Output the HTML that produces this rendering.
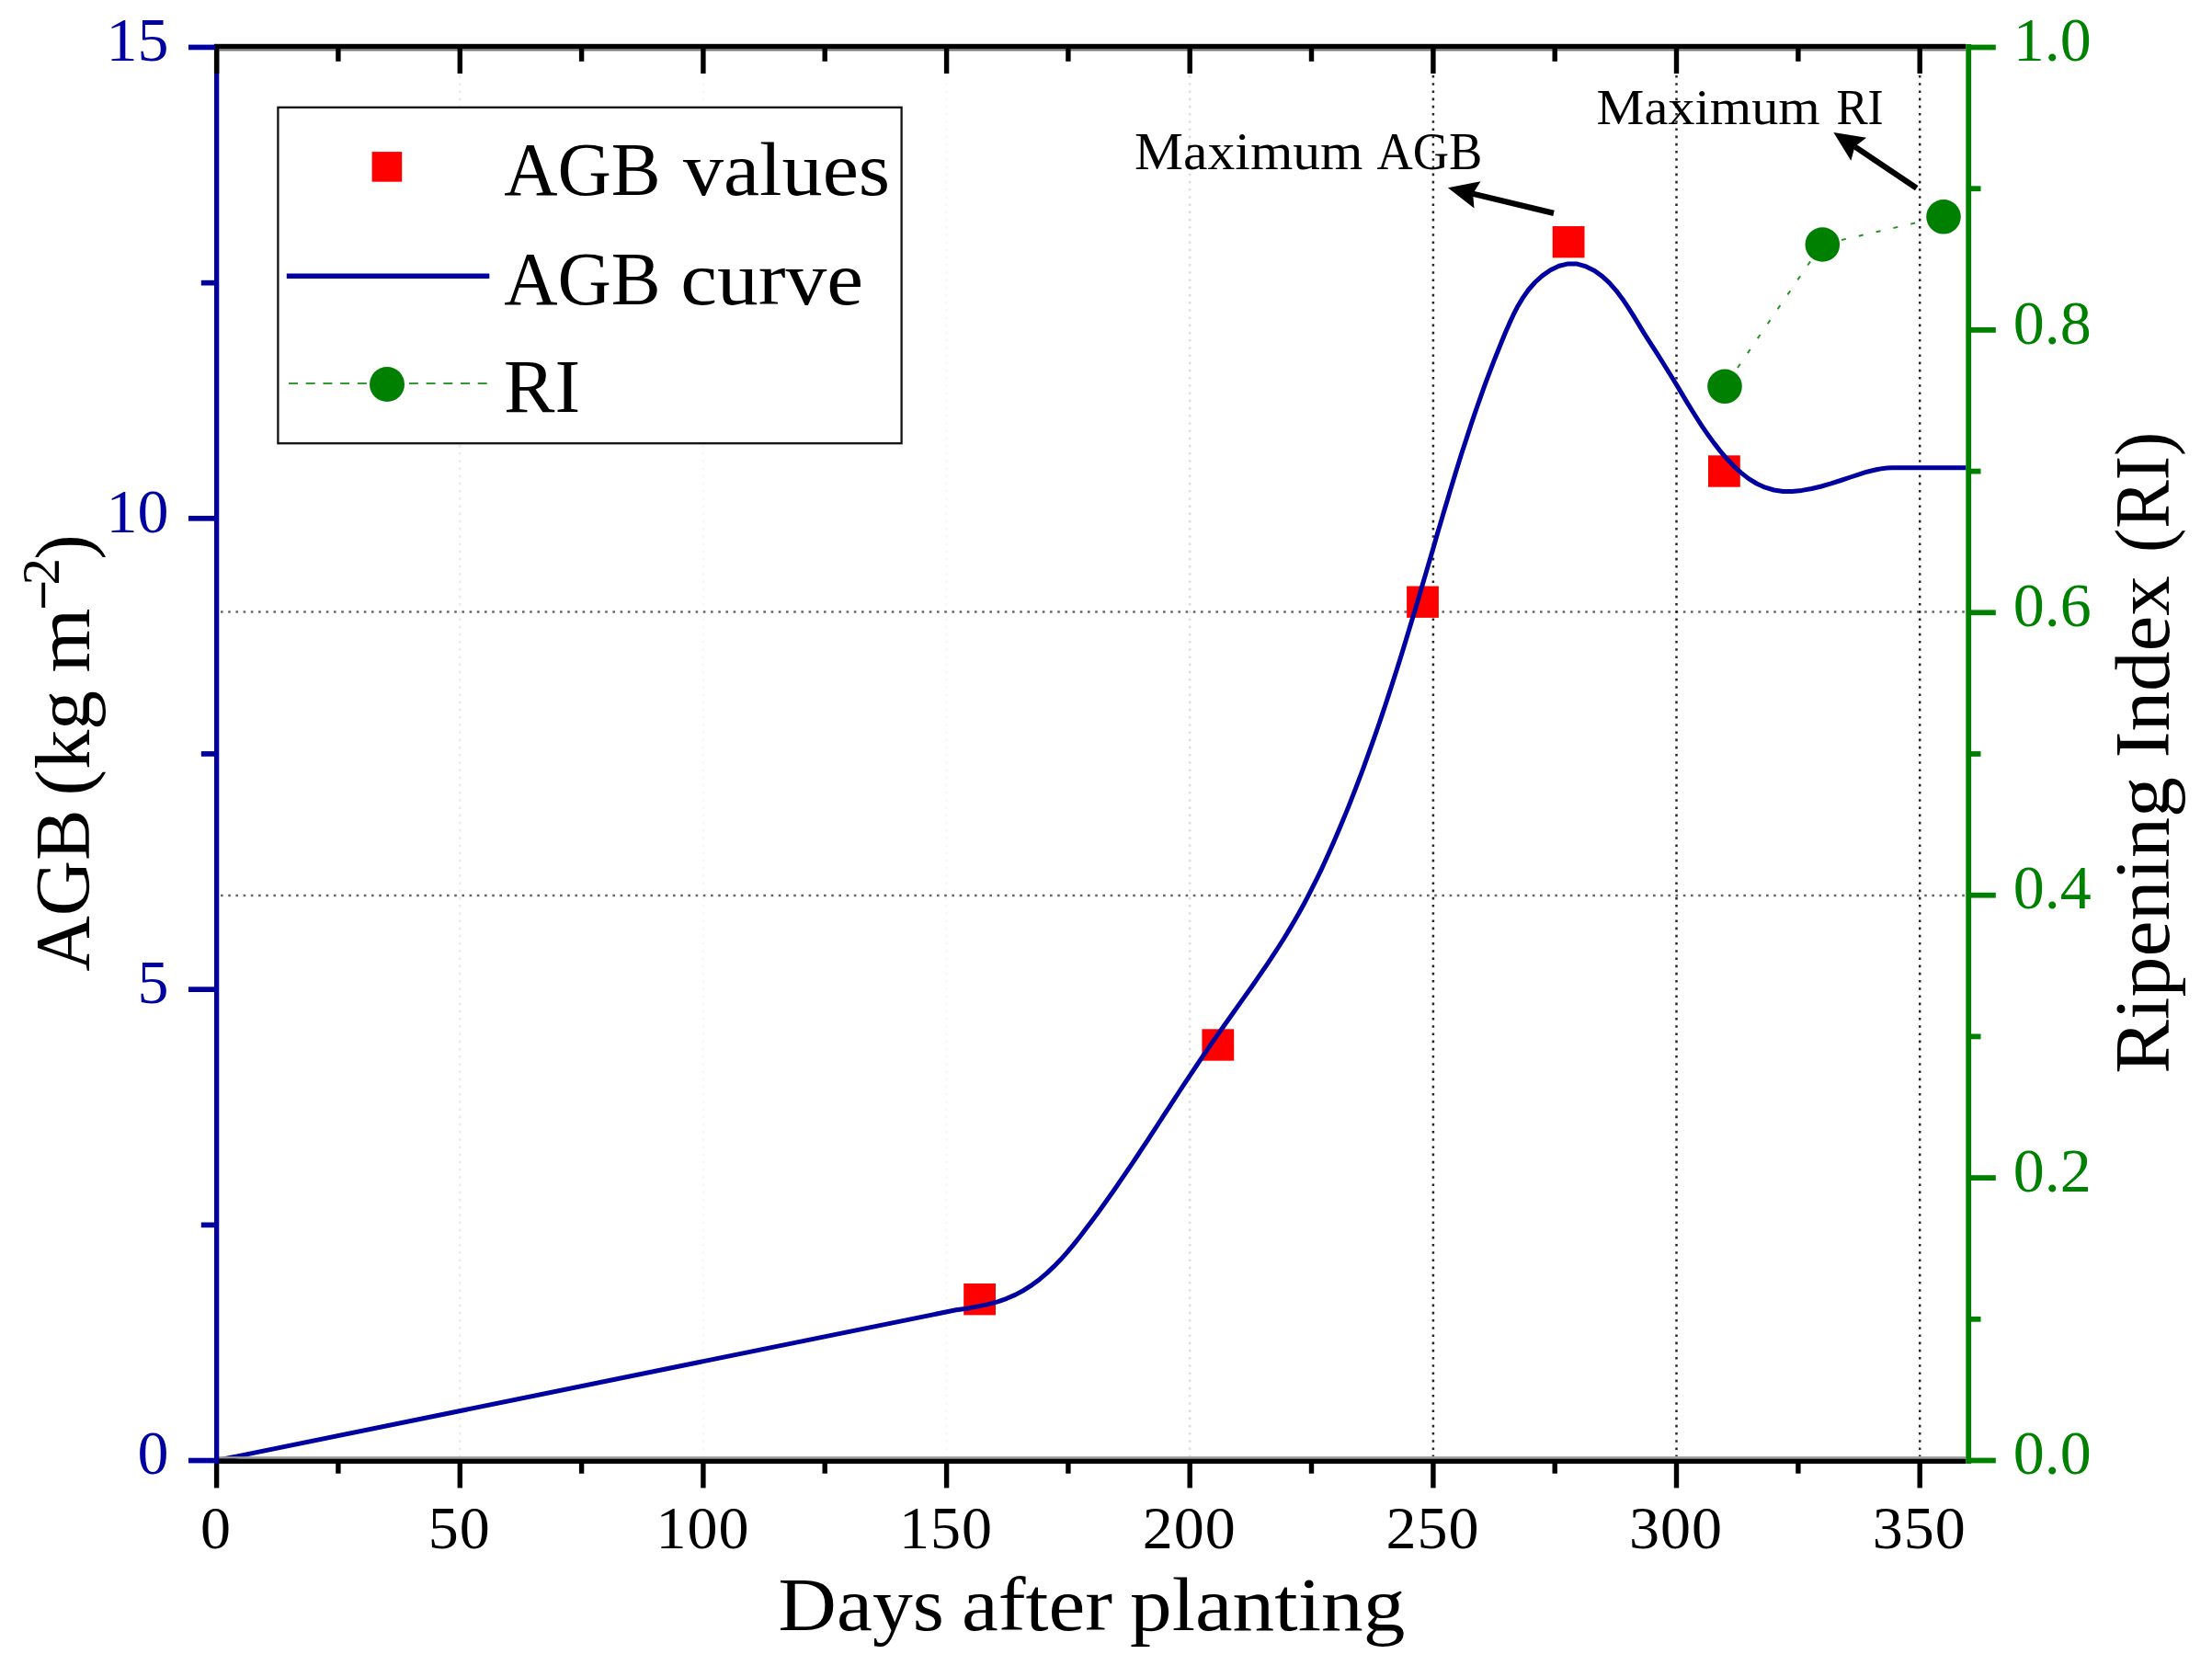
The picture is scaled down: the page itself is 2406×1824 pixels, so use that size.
<!DOCTYPE html>
<html lang="en"><head><meta charset="utf-8"><title>AGB curve and Ripening Index</title>
<style>html,body{margin:0;padding:0;background:#fff}svg{display:block}text{font-family:"Liberation Serif", "DejaVu Serif", serif}</style></head><body>
<svg width="2406" height="1824" viewBox="0 0 2406 1824">
<rect width="2406" height="1824" fill="#fff"/>
<g fill="none" stroke-width="2.5" stroke-dasharray="2.6 5.6">
<line x1="500.3" y1="82" x2="500.3" y2="1584" stroke="#000" stroke-opacity="0.08"/>
<line x1="764.9" y1="82" x2="764.9" y2="1584" stroke="#000" stroke-opacity="0.03"/>
<line x1="1029.6" y1="82" x2="1029.6" y2="1584" stroke="#000" stroke-opacity="0.03"/>
<line x1="1294.2" y1="82" x2="1294.2" y2="1584" stroke="#000" stroke-opacity="0.12"/>
<line x1="1558.9" y1="82" x2="1558.9" y2="1584" stroke="#000" stroke-opacity="0.85"/>
<line x1="1823.5" y1="82" x2="1823.5" y2="1584" stroke="#000" stroke-opacity="0.85"/>
<line x1="2088.2" y1="82" x2="2088.2" y2="1584" stroke="#000" stroke-opacity="0.85"/>
<line x1="240" y1="974.0" x2="2137" y2="974.0" stroke="#000" stroke-opacity="0.6"/>
<line x1="240" y1="665.6" x2="2137" y2="665.6" stroke="#000" stroke-opacity="0.6"/>
</g>
<rect x="302.4" y="116.8" width="678.2" height="365.4" fill="#fff" stroke="#111" stroke-width="2.3"/>
<g fill="#ff0000">
<rect x="1048.2" y="1396.0" width="34.8" height="34.4"/>
<rect x="1307.4" y="1119.3" width="34.8" height="34.4"/>
<rect x="1530.1" y="637.5" width="34.8" height="34.4"/>
<rect x="1688.7" y="246.0" width="34.8" height="34.4"/>
<rect x="1858.0" y="495.3" width="34.8" height="34.4"/>
</g>
<path d="M235.6 1588.5 L1040 1424.7 1053.3 1422.9 1064.1 1420.9 1074.8 1418.6 1085.1 1415.8 1095.1 1412.3 1104.7 1408.1 1113.8 1403.2 1122.5 1397.6 1130.8 1391.4 1138.8 1384.6 1146.4 1377.4 1153.8 1369.8 1160.9 1361.8 1167.8 1353.6 1174.5 1345.2 1181.1 1336.6 1187.6 1328.0 1193.9 1319.4 1200.2 1310.7 1206.4 1302.0 1212.6 1293.2 1218.6 1284.4 1224.6 1275.6 1230.6 1266.8 1236.5 1258.0 1242.3 1249.1 1248.2 1240.3 1254.0 1231.4 1259.8 1222.5 1265.5 1213.6 1271.3 1204.8 1277.1 1195.9 1282.9 1187.0 1288.7 1178.2 1294.6 1169.3 1300.5 1160.5 1306.4 1151.7 1312.4 1142.9 1318.4 1134.1 1324.5 1125.4 1330.6 1116.7 1336.8 1108.0 1343.0 1099.3 1349.1 1090.6 1355.3 1081.9 1361.5 1073.2 1367.6 1064.4 1373.6 1055.6 1379.6 1046.8 1385.5 1037.9 1391.3 1029.0 1397.0 1020.0 1402.5 1010.9 1407.9 1001.8 1413.2 992.6 1418.3 983.3 1423.2 973.9 1428.0 964.4 1432.8 954.9 1437.4 945.3 1441.8 935.7 1446.2 926.0 1450.5 916.3 1454.7 906.5 1458.8 896.7 1462.9 886.9 1466.9 877.1 1470.8 867.2 1474.6 857.3 1478.4 847.3 1482.2 837.4 1485.8 827.4 1489.4 817.4 1493.0 807.3 1496.5 797.3 1500.0 787.2 1503.4 777.1 1506.8 767.0 1510.1 756.9 1513.4 746.8 1516.6 736.7 1519.9 726.5 1523.0 716.4 1526.2 706.2 1529.3 696.0 1532.4 685.8 1535.5 675.6 1538.6 665.4 1541.6 655.2 1544.6 645.0 1547.6 634.8 1550.6 624.6 1553.6 614.4 1556.6 604.2 1559.6 594.0 1562.5 583.8 1565.5 573.6 1568.5 563.4 1571.5 553.3 1574.6 543.1 1577.6 532.9 1580.7 522.8 1583.8 512.6 1586.9 502.5 1590.1 492.3 1593.4 482.2 1596.7 472.1 1600.0 462.0 1603.4 451.9 1606.9 441.8 1610.4 431.8 1614.0 421.7 1617.7 411.7 1621.5 401.7 1625.3 391.7 1629.3 381.7 1633.3 371.8 1637.4 361.8 1641.7 351.9 1646.2 342.2 1651.1 332.7 1656.6 323.6 1662.7 315.0 1669.7 307.0 1677.6 299.9 1686.4 293.7 1695.8 289.2 1705.7 286.9 1715.6 287.1 1725.3 289.9 1734.4 294.5 1742.9 300.6 1750.7 307.9 1757.9 316.1 1764.6 324.9 1770.8 334.1 1776.7 343.4 1782.3 352.6 1787.6 361.4 1792.8 369.6 1798.0 377.7 1803.3 385.9 1808.7 394.5 1814.3 403.5 1819.9 412.5 1825.3 421.4 1830.5 430.1 1835.6 438.6 1840.8 447.0 1846.1 455.5 1851.7 464.1 1857.7 472.8 1864.1 481.6 1870.9 490.4 1878.1 498.8 1885.7 506.8 1893.7 514.1 1902.0 520.6 1910.8 526.0 1920.0 530.2 1929.5 533.0 1939.4 534.4 1949.5 534.5 1959.9 533.4 1970.5 531.5 1981.1 529.0 1991.7 525.9 2002.3 522.5 2012.8 519.0 2023.1 515.6 C2033.1 512.4 2046.0 508.8 2058.0 508.8 L2138.5 508.8" fill="none" stroke="#0000a0" stroke-width="5" stroke-linejoin="round"/>
<path d="M1890 400 L1970 283 M2003 261 L2094 240" fill="none" stroke="#008000" stroke-width="2" stroke-dasharray="5 14.3" stroke-opacity=".85"/>
<g fill="#008000">
<circle cx="1876.0" cy="420.3" r="18.8"/>
<circle cx="1982.3" cy="266.0" r="18.8"/>
<circle cx="2114.0" cy="235.8" r="18.8"/>
</g>
<rect x="233" y="47.8" width="1905.5" height="5.6" fill="#000"/>
<rect x="238" y="53.4" width="1900.5" height="2.1" fill="#777"/>
<rect x="238" y="1584.2" width="1900.5" height="2.4" fill="#999"/>
<rect x="238" y="1586.6" width="1900.5" height="5.4" fill="#000"/>
<rect x="233" y="55" width="5.3" height="1537" fill="#0000a0"/>
<rect x="2138.3" y="48" width="5.8" height="1544" fill="#008000"/>
<g fill="#000">
<rect x="232.9" y="48" width="5.4" height="32"/>
<rect x="232.9" y="1592" width="5.4" height="26.4"/>
<rect x="365.2" y="48" width="5.4" height="18.8"/>
<rect x="365.2" y="1591.5" width="5.4" height="11.2"/>
<rect x="497.6" y="48" width="5.4" height="32"/>
<rect x="497.6" y="1592" width="5.4" height="26.4"/>
<rect x="629.9" y="48" width="5.4" height="18.8"/>
<rect x="629.9" y="1591.5" width="5.4" height="11.2"/>
<rect x="762.2" y="48" width="5.4" height="32"/>
<rect x="762.2" y="1592" width="5.4" height="26.4"/>
<rect x="894.5" y="48" width="5.4" height="18.8"/>
<rect x="894.5" y="1591.5" width="5.4" height="11.2"/>
<rect x="1026.9" y="48" width="5.4" height="32"/>
<rect x="1026.9" y="1592" width="5.4" height="26.4"/>
<rect x="1159.2" y="48" width="5.4" height="18.8"/>
<rect x="1159.2" y="1591.5" width="5.4" height="11.2"/>
<rect x="1291.5" y="48" width="5.4" height="32"/>
<rect x="1291.5" y="1592" width="5.4" height="26.4"/>
<rect x="1423.8" y="48" width="5.4" height="18.8"/>
<rect x="1423.8" y="1591.5" width="5.4" height="11.2"/>
<rect x="1556.2" y="48" width="5.4" height="32"/>
<rect x="1556.2" y="1592" width="5.4" height="26.4"/>
<rect x="1688.5" y="48" width="5.4" height="18.8"/>
<rect x="1688.5" y="1591.5" width="5.4" height="11.2"/>
<rect x="1820.8" y="48" width="5.4" height="32"/>
<rect x="1820.8" y="1592" width="5.4" height="26.4"/>
<rect x="1953.2" y="48" width="5.4" height="18.8"/>
<rect x="1953.2" y="1591.5" width="5.4" height="11.2"/>
<rect x="2085.5" y="48" width="5.4" height="32"/>
<rect x="2085.5" y="1592" width="5.4" height="26.4"/>
</g>
<g fill="#0000a0">
<rect x="205" y="1585.7" width="29" height="5.7"/>
<rect x="218.8" y="1329.5" width="15" height="5.7"/>
<rect x="205" y="1073.3" width="29" height="5.7"/>
<rect x="218.8" y="817.1" width="15" height="5.7"/>
<rect x="205" y="561.0" width="29" height="5.7"/>
<rect x="218.8" y="304.8" width="15" height="5.7"/>
<rect x="205" y="48.6" width="29" height="5.7"/>
</g>
<g fill="#008000">
<rect x="2143" y="1585.6" width="27.8" height="5.8"/>
<rect x="2143" y="1431.9" width="11.5" height="5.8"/>
<rect x="2143" y="1278.2" width="27.8" height="5.8"/>
<rect x="2143" y="1124.5" width="11.5" height="5.8"/>
<rect x="2143" y="970.8" width="27.8" height="5.8"/>
<rect x="2143" y="817.1" width="11.5" height="5.8"/>
<rect x="2143" y="663.4" width="27.8" height="5.8"/>
<rect x="2143" y="509.7" width="11.5" height="5.8"/>
<rect x="2143" y="356.0" width="27.8" height="5.8"/>
<rect x="2143" y="202.3" width="11.5" height="5.8"/>
<rect x="2143" y="48.6" width="27.8" height="5.8"/>
</g>
<g font-size="66" letter-spacing="1" fill="#000" text-anchor="middle">
<text x="235.1" y="1684.0">0</text>
<text x="499.8" y="1684.0">50</text>
<text x="764.4" y="1684.0">100</text>
<text x="1029.1" y="1684.0">150</text>
<text x="1293.7" y="1684.0">200</text>
<text x="1558.4" y="1684.0">250</text>
<text x="1823.0" y="1684.0">300</text>
<text x="2087.7" y="1684.0">350</text>
</g>
<g font-size="68" fill="#0000a0" text-anchor="end">
<text x="183.5" y="1603.2">0</text>
<text x="183.5" y="1090.9">5</text>
<text x="183.5" y="578.5">10</text>
<text x="183.5" y="66.2">15</text>
</g>
<g font-size="68" fill="#008000" text-anchor="start">
<text x="2189.8" y="1603.2">0.0</text>
<text x="2189.8" y="1295.8">0.2</text>
<text x="2189.8" y="988.4">0.4</text>
<text x="2189.8" y="681.0">0.6</text>
<text x="2189.8" y="373.6">0.8</text>
<text x="2189.8" y="66.2">1.0</text>
</g>
<text x="846.6" y="1772.5" font-size="83" textLength="180.3" lengthAdjust="spacingAndGlyphs">Days</text>
<text x="1046.1" y="1772.5" font-size="83" textLength="163.9" lengthAdjust="spacingAndGlyphs">after</text>
<text x="1229.1" y="1772.5" font-size="83" textLength="299.2" lengthAdjust="spacingAndGlyphs">planting</text>
<text x="548.2" y="212.3" font-size="83" textLength="170.4" lengthAdjust="spacingAndGlyphs">AGB</text>
<text x="742.9" y="212.3" font-size="83" textLength="225.2" lengthAdjust="spacingAndGlyphs">values</text>
<text x="548.2" y="330.5" font-size="83" textLength="170.4" lengthAdjust="spacingAndGlyphs">AGB</text>
<text x="740.3" y="330.5" font-size="83" textLength="198.8" lengthAdjust="spacingAndGlyphs">curve</text>
<text x="548.0" y="448.3" font-size="83" textLength="83.1" lengthAdjust="spacingAndGlyphs">RI</text>
<text x="1234.1" y="184.2" font-size="58" textLength="248.3" lengthAdjust="spacingAndGlyphs">Maximum</text>
<text x="1497.4" y="184.2" font-size="58" textLength="114.9" lengthAdjust="spacingAndGlyphs">AGB</text>
<text x="1736.6" y="134.8" font-size="55" textLength="243.1" lengthAdjust="spacingAndGlyphs">Maximum</text>
<text x="1997.4" y="134.8" font-size="55" textLength="51.3" lengthAdjust="spacingAndGlyphs">RI</text>
<text transform="translate(96.5 1056.6) rotate(-90)" font-size="84" textLength="176.2" lengthAdjust="spacingAndGlyphs">AGB</text>
<text transform="translate(96.5 865.5) rotate(-90)" font-size="84" textLength="114.6" lengthAdjust="spacingAndGlyphs">(kg</text>
<text transform="translate(96.5 731.7) rotate(-90)" font-size="84" textLength="70.1" lengthAdjust="spacingAndGlyphs">m</text>
<text transform="translate(66.0 664.1) rotate(-90)" font-size="56" font-weight="bold" textLength="33.4" lengthAdjust="spacingAndGlyphs">−</text>
<text transform="translate(64.2 636.5) rotate(-90)" font-size="58" textLength="29.4" lengthAdjust="spacingAndGlyphs">2</text>
<text transform="translate(96.5 608.4) rotate(-90)" font-size="84" textLength="27.0" lengthAdjust="spacingAndGlyphs">)</text>
<text transform="translate(2358.8 1167.7) rotate(-90)" font-size="84" textLength="322.7" lengthAdjust="spacingAndGlyphs">Ripening</text>
<text transform="translate(2358.8 824.6) rotate(-90)" font-size="84" textLength="198.4" lengthAdjust="spacingAndGlyphs">Index</text>
<text transform="translate(2358.8 600.9) rotate(-90)" font-size="84" textLength="131.2" lengthAdjust="spacingAndGlyphs">(RI)</text>
<rect x="404.6" y="165.1" width="32.6" height="32.6" fill="#ff0000"/>
<line x1="311.8" y1="300.3" x2="532.3" y2="300.3" stroke="#0000a0" stroke-width="5.4"/>
<line x1="314" y1="417.1" x2="531" y2="417.1" stroke="#008000" stroke-width="2" stroke-dasharray="10 8.7" stroke-opacity=".8"/>
<circle cx="421" cy="418" r="19" fill="#008000"/>
<line x1="1690.0" y1="231.9" x2="1602.1" y2="210.8" stroke="#000" stroke-width="6.3"/><polygon points="1574.9,204.2 1610.5,197.3 1602.1,210.8 1603.5,226.5" fill="#000"/>
<line x1="2084.7" y1="204.6" x2="2017.5" y2="159.5" stroke="#000" stroke-width="6.3"/><polygon points="1994.3,143.9 2030.1,149.8 2017.5,159.5 2013.3,174.7" fill="#000"/>
</svg></body></html>
